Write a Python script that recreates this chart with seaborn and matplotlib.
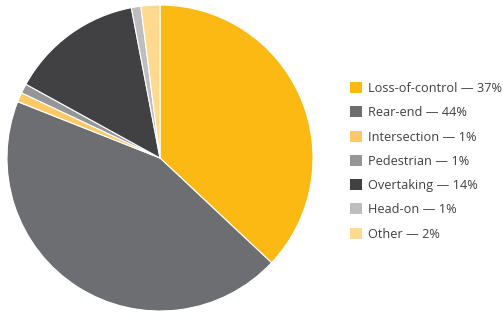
import matplotlib
matplotlib.use("Agg")
import matplotlib.pyplot as plt
import seaborn as sns
from matplotlib.patches import Patch

# --- Data ---
categories = ["Loss-of-control", "Rear-end", "Intersection", "Pedestrian",
              "Overtaking", "Head-on", "Other"]
shares = [37, 44, 1, 1, 14, 1, 2]
colors = ["#FDB913", "#6D6E71", "#FDC966", "#939598",
          "#414042", "#BCBEC0", "#FED98E"]

sns.set_theme(style="white")
plt.rcParams["font.family"] = ["Open Sans", "DejaVu Sans"]

fig = plt.figure(figsize=(5.03, 3.15), dpi=100)
ax = fig.add_axes([7 / 503, 4 / 315, 306 / 503, 306 / 315])

ax.pie(shares, colors=colors, startangle=90, counterclock=False,
       wedgeprops=dict(edgecolor="white", linewidth=0.8))
ax.set_xlim(-1, 1)
ax.set_ylim(-1, 1)
ax.set_aspect("equal")
ax.axis("off")

labels = [f"{c} \u2014 {v}%" for c, v in zip(categories, shares)]
handles = [Patch(facecolor=col, edgecolor="none") for col in colors]
fig.legend(handles, labels, loc="upper left", bbox_to_anchor=(345 / 503, 1 - 77 / 315),
           frameon=False, fontsize=9.2, labelcolor="#404040",
           handlelength=0.95, handleheight=0.95, handletextpad=0.45,
           labelspacing=0.88, borderaxespad=0)

fig.savefig("out.png", dpi=100)
